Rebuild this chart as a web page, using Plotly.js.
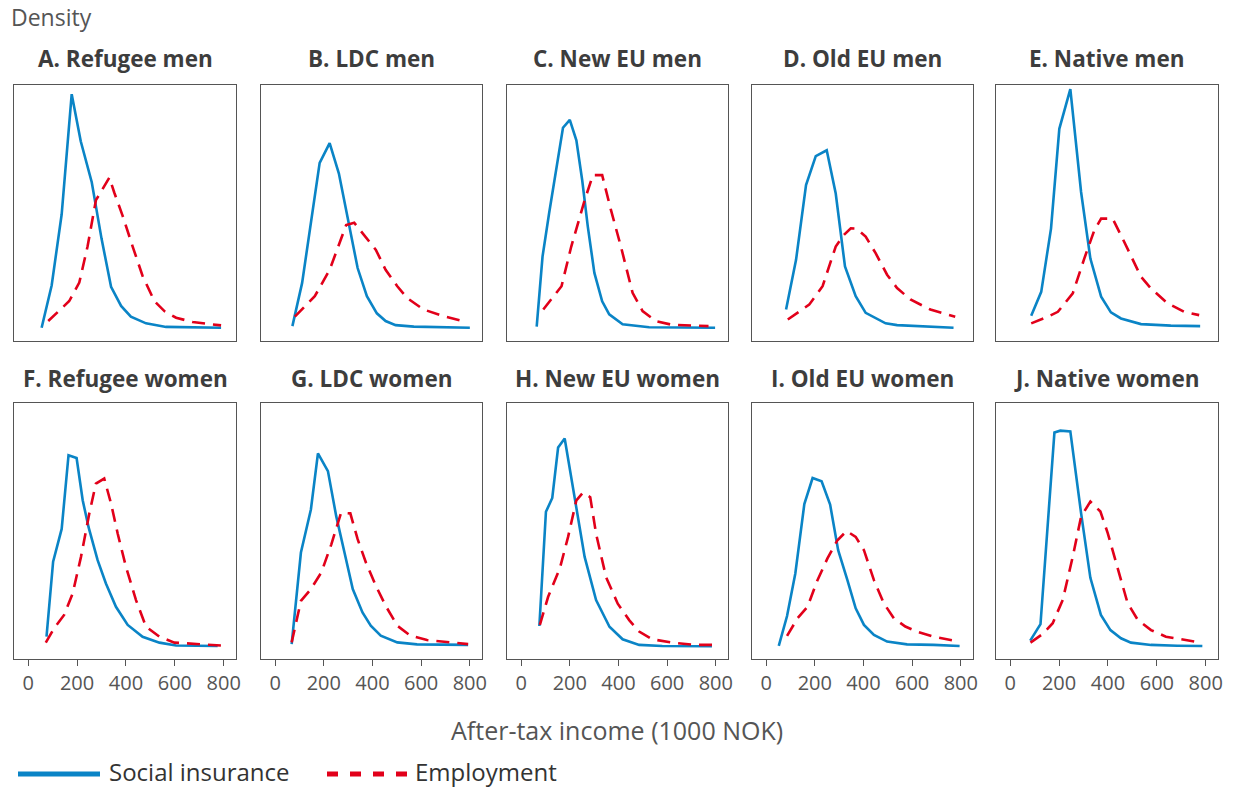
<!DOCTYPE html>
<html>
<head>
<meta charset="utf-8">
<script src="https://cdn.plot.ly/plotly-3.0.1.min.js"></script>
<style>html,body{margin:0;padding:0;background:#fff;}#chart{width:1234px;height:789px;}</style>
</head>
<body>
<div id="chart"></div>
<script>
// Panel titles
const panelTitles = ["A. Refugee men","B. LDC men","C. New EU men","D. Old EU men","E. Native men",
                     "F. Refugee women","G. LDC women","H. New EU women","I. Old EU women","J. Native women"];
const seriesNames = ["Social insurance","Employment"];
const xTicks = [0,200,400,600,800];

// Density (relative units, % of panel height) vs after-tax income (1000 NOK)
// A. Refugee men
const aSocX = [55,96,137,178,215,260,300,339,380,420,482,564,789];
const aSocY = [5.2,21.7,49.5,96.4,78,62,40,21.2,13.7,9.5,6.9,5.5,5.2];
const aEmpX = [82,168,209,243,277,332,352,386,427,468,516,557,605,673,789];
const aEmpY = [7.8,15.6,22.8,37,55,63.8,58,49,37,25.4,15.6,11.7,9.1,7.4,6.1];
// B. LDC men
const bSocX = [71,111,183,224,262,339,377,418,454,495,570,800];
const bSocY = [5.8,22.7,69.6,77.3,65.4,28.5,17.5,10.8,7.8,6.2,5.6,5.2];
const bEmpX = [81,163,224,292,325,366,414,454,502,542,610,692,786];
const bEmpY = [9.5,17.5,27.8,45.3,46.2,41.5,35.6,27.8,21.4,16.8,12.3,9.7,7.4];
// C. New EU men
const cSocX = [64,88,115,145,172,200,227,251,274,301,333,362,417,526,797];
const cSocY = [5.6,33,49.9,67.4,83.3,86.4,78.4,62.8,44.7,26.6,15.5,10.4,6.5,5.4,5.2];
const cEmpX = [91,166,206,261,295,333,369,410,458,499,553,621,770];
const cEmpY = [12.3,21.4,36.9,55,64.8,64.8,51.2,36.9,18.8,11.7,7.8,6.3,5.8];
// D. Old EU men
const dSocX = [82,123,164,204,249,286,324,368,409,491,538,647,770];
const dSocY = [12.3,31.7,60.9,72.2,74.5,57.6,29.1,17.5,11.0,6.9,6.2,5.8,5.2];
const dEmpX = [89,177,232,286,320,348,372,409,450,497,538,593,675,777];
const dEmpY = [8.4,14.2,21.4,36.9,41.5,44,43.9,40.8,34.3,25.9,20.7,16.2,12.3,9.5];
// E. Native men
const eSocX = [86,127,167,201,246,290,328,372,412,453,535,657,777];
const eSocY = [9.9,19.2,43.9,82.9,98.4,58.2,32.2,17.3,11.2,8.8,6.6,6.0,5.8];
const eEmpX = [86,147,195,256,303,344,372,419,460,501,535,576,644,712,773];
const eEmpY = [6.9,9.2,11.4,18.6,32.2,43.2,47.8,47.8,40,31.6,25.1,20.5,14.7,11.4,10.1];
// F. Refugee women
const fSocX = [75,102,137,165,198,223,247,284,318,359,407,468,537,605,775];
const fSocY = [8.7,38,50.8,79.6,78.5,62,51.5,38.6,29.5,20.4,13.3,8.7,6.4,5.3,5.1];
const fEmpX = [72,106,147,182,216,250,277,311,339,366,400,441,482,537,598,673,796];
const fEmpY = [6.4,12.0,17.2,25.6,39.9,56.8,68.5,70.5,60.7,49,36,23,12.6,8.7,6.4,5.9,5.2];
// G. LDC women
const gSocX = [68,106,147,176,217,251,285,319,359,393,434,502,583,793];
const gSocY = [5.8,41.6,58.4,80.3,73.4,55.8,41.6,27.3,18.2,13,9.1,6.5,5.7,5.5];
const gEmpX = [68,106,147,190,231,271,309,339,373,414,454,502,556,624,719,793];
const gEmpY = [6.5,22.7,27.3,33.8,44.8,57.1,56.9,46.8,37.7,28.6,20.8,13,9.1,7.4,6.5,5.8];
// H. New EU women
const hSocX = [75,102,128,152,179,206,234,261,308,363,417,485,580,784];
const hSocY = [12.9,57.5,62.9,82.6,86.1,71.1,55.5,39.9,23.0,12.6,7.7,5.5,5.1,5.0];
const hEmpX = [77,111,159,193,227,254,284,308,349,397,444,485,539,621,716,797];
const hEmpY = [13.3,24.3,35.4,47.7,62.0,65.0,63.2,48.9,32,21.6,15.2,10.7,7.7,6.4,5.5,5.5];
// I. Old EU women
const iSocX = [52,86,120,157,191,228,263,296,334,368,402,443,497,579,688,795];
const iSocY = [5.1,16.8,33.4,60.5,70.7,69.4,60.3,42.5,30.8,19.8,13.3,9.4,6.8,5.7,5.5,5.1];
const iEmpX = [86,129,170,211,252,293,331,368,402,443,484,525,572,620,688,781];
const iEmpY = [9.0,15.9,20.4,30.8,39.3,46.4,50,47.7,42.5,30.8,21.7,15.9,12.7,10.7,8.7,7.0];
// J. Native women
const jSocX = [82,124,181,205,246,290,328,371,410,453,494,576,684,786];
const jSocY = [7.2,13.6,88.5,89.2,88.9,57,31.7,17.2,11.3,8.1,6.4,5.5,5.2,5.1];
const jEmpX = [83,133,174,215,256,290,328,369,399,439,480,521,576,637,711,780];
const jEmpY = [6.4,9.8,14,23.1,40.0,55.6,61.5,57.6,49.2,35.5,21.9,15.4,11.3,8.7,7.4,6.4];

const socX = [aSocX,bSocX,cSocX,dSocX,eSocX,fSocX,gSocX,hSocX,iSocX,jSocX];
const socY = [aSocY,bSocY,cSocY,dSocY,eSocY,fSocY,gSocY,hSocY,iSocY,jSocY];
const empX = [aEmpX,bEmpX,cEmpX,dEmpX,eEmpX,fEmpX,gEmpX,hEmpX,iEmpX,jEmpX];
const empY = [aEmpY,bEmpY,cEmpY,dEmpY,eEmpY,fEmpY,gEmpY,hEmpY,iEmpY,jEmpY];

const W = 1234, H = 789;
const colPx = [[14,236],[261,482],[507,728],[752,973],[996,1218]];
const rowPx = [[85,341],[403,659]];
const titleRowPx = [58,378];
const blue = "#0a84c6", red = "#e2001a";
const FONT = "Open Sans, Lato, sans-serif";

const data = [];
const layout = {
  width: W, height: H,
  margin: {l:0, r:0, t:0, b:0},
  paper_bgcolor: "#fff", plot_bgcolor: "#fff",
  font: {family: FONT, color: "#444"},
  showlegend: false,
  annotations: [],
  shapes: [],
};

for (let p = 0; p < 10; p++) {
  const r = Math.floor(p / 5), c = p % 5;
  const n = p + 1;
  const xa = "x" + (n === 1 ? "" : n), ya = "y" + (n === 1 ? "" : n);
  const xk = "xaxis" + (n === 1 ? "" : n), yk = "yaxis" + (n === 1 ? "" : n);
  data.push({type: "scatter", mode: "lines", x: socX[p], y: socY[p], xaxis: xa, yaxis: ya,
             name: seriesNames[0], legendgroup: "soc",
             line: {color: blue, width: 2.6}});
  data.push({type: "scatter", mode: "lines", x: empX[p], y: empY[p], xaxis: xa, yaxis: ya,
             name: seriesNames[1], legendgroup: "emp",
             line: {color: red, width: 2.6, dash: "13px,8px"}});
  layout[xk] = {
    domain: [colPx[c][0] / W, colPx[c][1] / W],
    anchor: ya, range: [-58, 850], showgrid: false, zeroline: false,
    showline: true, mirror: true, linecolor: "#555", linewidth: 1,
    tickvals: xTicks, ticks: r === 1 ? "outside" : "", ticklen: 6, tickcolor: "#555",
    showticklabels: r === 1, tickfont: {size: 20, color: "#555", family: FONT}
  };
  layout[yk] = {
    domain: [1 - rowPx[r][1] / H, 1 - rowPx[r][0] / H],
    anchor: xa, range: [0, 100], showgrid: false, zeroline: false,
    showline: true, mirror: true, linecolor: "#555", linewidth: 1,
    ticks: "", showticklabels: false
  };
  layout.annotations.push({
    xref: "paper", yref: "paper", x: (colPx[c][0] + colPx[c][1]) / 2 / W, y: 1 - titleRowPx[r] / H,
    xanchor: "center", yanchor: "middle", showarrow: false,
    text: "<b>" + panelTitles[p] + "</b>", font: {size: 22.5, color: "#3d3d3d", family: FONT}
  });
}
layout.annotations.push({xref: "paper", yref: "paper", x: 9 / W, y: 1 - 17 / H, xanchor: "left", yanchor: "middle",
  showarrow: false, text: "Density", font: {size: 23, color: "#555", family: FONT}});
layout.annotations.push({xref: "paper", yref: "paper", x: 617 / W, y: 1 - 730 / H, xanchor: "center", yanchor: "middle",
  showarrow: false, text: "After-tax income (1000 NOK)", font: {size: 25, color: "#555", family: FONT}});

// Legend (keys drawn as shapes, labels as text)
const legY = 1 - 774 / H;
layout.shapes.push({type: "line", xref: "paper", yref: "paper", x0: 18 / W, x1: 100 / W, y0: legY, y1: legY,
  line: {color: blue, width: 5}});
layout.shapes.push({type: "line", xref: "paper", yref: "paper", x0: 327 / W, x1: 407 / W, y0: legY, y1: legY,
  line: {color: red, width: 5, dash: "11px,12px"}});
layout.annotations.push({xref: "paper", yref: "paper", x: 108 / W, y: 0, xanchor: "left", yanchor: "bottom",
  borderpad: 0, showarrow: false, text: seriesNames[0], font: {size: 24, color: "#333", family: FONT}});
layout.annotations.push({xref: "paper", yref: "paper", x: 414 / W, y: 0, xanchor: "left", yanchor: "bottom",
  borderpad: 0, showarrow: false, text: seriesNames[1], font: {size: 24, color: "#333", family: FONT}});

Plotly.newPlot("chart", data, layout, {staticPlot: true, displayModeBar: false});
</script>
</body>
</html>
